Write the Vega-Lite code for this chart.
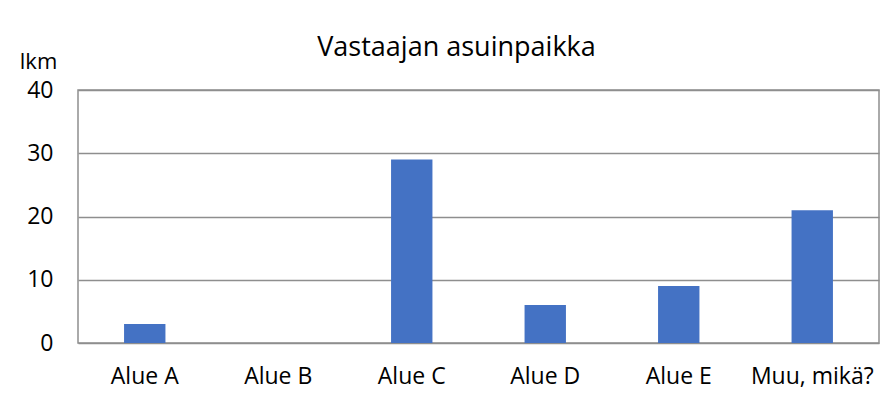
{
  "$schema": "https://vega.github.io/schema/vega-lite/v6.json",
  "autosize": {"type": "none"},
  "width": 801,
  "height": 253,
  "padding": {"left": 78, "top": 90, "right": 15, "bottom": 57},
  "background": "white",
  "title": {
    "text": "Vastaajan asuinpaikka",
    "font": "Open Sans",
    "fontSize": 27,
    "fontWeight": "normal",
    "color": "#000000",
    "anchor": "middle",
    "dx": -22,
    "offset": -12
  },
  "data": {
    "values": [
      {"alue": "Alue A", "lkm": 3},
      {"alue": "Alue B", "lkm": 0},
      {"alue": "Alue C", "lkm": 29},
      {"alue": "Alue D", "lkm": 6},
      {"alue": "Alue E", "lkm": 9},
      {"alue": "Muu, mikä?", "lkm": 21}
    ]
  },
  "mark": {"type": "bar", "color": "#4472C4"},
  "encoding": {
    "x": {
      "field": "alue",
      "type": "nominal",
      "sort": null,
      "scale": {"paddingInner": 0.69, "paddingOuter": 0.345},
      "axis": {
        "title": null,
        "labelAngle": 0,
        "labelFont": "Open Sans",
        "labelFontSize": 23,
        "labelColor": "#000000",
        "labelPadding": 22,
        "ticks": false,
        "domain": false
      }
    },
    "y": {
      "field": "lkm",
      "type": "quantitative",
      "scale": {"domain": [0, 40]},
      "axis": {
        "values": [0, 10, 20, 30, 40],
        "title": "lkm",
        "titleAngle": 0,
        "titleFont": "Open Sans",
        "titleFontSize": 22,
        "titleFontWeight": "normal",
        "titleColor": "#000000",
        "titleAlign": "center",
        "titleBaseline": "alphabetic",
        "titleX": -40,
        "titleY": -22,
        "labelFont": "Open Sans",
        "labelFontSize": 23,
        "labelColor": "#000000",
        "labelPadding": 25,
        "ticks": false,
        "domain": false,
        "grid": true,
        "gridColor": "#8e8e8e",
        "gridWidth": 1.5
      }
    }
  },
  "config": {
    "view": {"stroke": "#8e8e8e", "strokeWidth": 1.5}
  }
}
